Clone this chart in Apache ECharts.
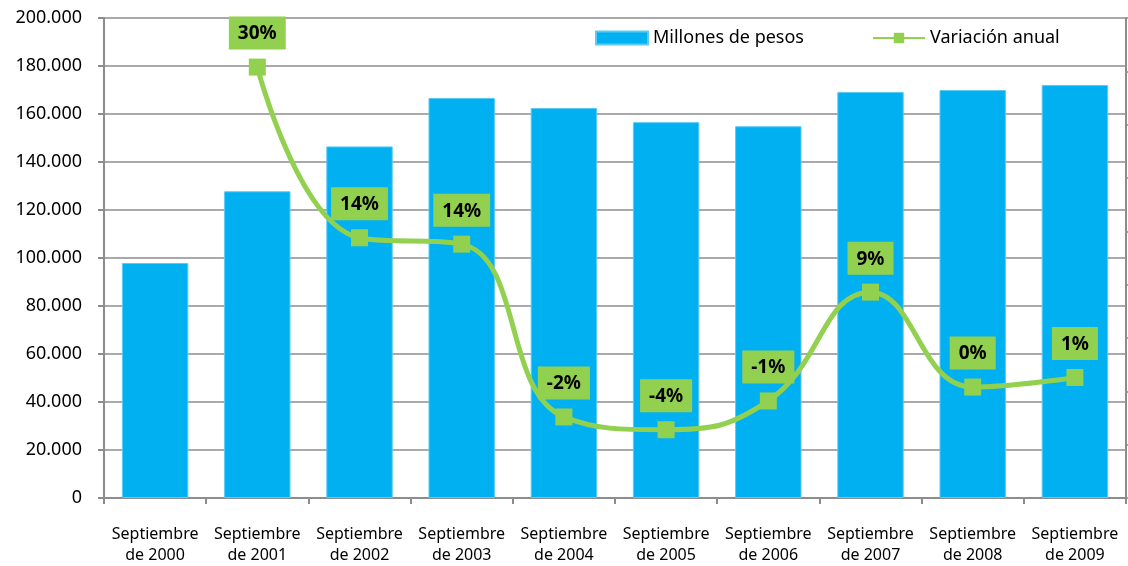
<!DOCTYPE html>
<html>
<head>
<meta charset="utf-8">
<script src="https://cdn.jsdelivr.net/npm/echarts@6/dist/echarts.min.js"></script>
<style>
  html, body { margin: 0; padding: 0; background: #fff; }
  #chart { width: 1128px; height: 566px; }
</style>
</head>
<body>
<div id="chart"></div>
<script>
// datos
const years = ['Septiembre\nde 2000', 'Septiembre\nde 2001', 'Septiembre\nde 2002', 'Septiembre\nde 2003',
  'Septiembre\nde 2004', 'Septiembre\nde 2005', 'Septiembre\nde 2006', 'Septiembre\nde 2007',
  'Septiembre\nde 2008', 'Septiembre\nde 2009'];
const millones = [97900, 127800, 146500, 166700, 162500, 156600, 154900, 169200, 170000, 172100];
const variacion = [null, 30.4, 14.4, 13.8, -2.4, -3.6, -0.9, 9.3, 0.4, 1.3];

const chart = echarts.init(document.getElementById('chart'));

function miles(v) {
  return String(v).replace(/\B(?=(\d{3})+(?!\d))/g, '.');
}

const gris = '#8c8c8c';
const fuente = 'Noto Sans';

const option = {
  animation: false,
  textStyle: { fontFamily: fuente },
  legend: {
    left: 590,
    top: 24,
    itemWidth: 52,
    itemHeight: 13,
    itemGap: 68,
    textStyle: { fontSize: 18, color: '#000', fontFamily: fuente },
    data: [
      { name: 'Millones de pesos', icon: 'rect' },
      { name: 'Variación anual' }
    ]
  },
  grid: {
    left: 104,
    right: 2,
    top: 18,
    bottom: 66
  },
  xAxis: {
    type: 'category',
    data: years,
    axisLine: { lineStyle: { color: gris, width: 2 } },
    axisTick: { show: true, length: 6, lineStyle: { color: gris, width: 2 } },
    axisLabel: {
      color: '#000',
      fontSize: 16,
      lineHeight: 21,
      margin: 26,
      interval: 0
    }
  },
  yAxis: [
    {
      type: 'value',
      min: 0,
      max: 200000,
      interval: 20000,
      axisLine: { show: true, lineStyle: { color: gris, width: 2 } },
      axisTick: { show: true, length: 6, lineStyle: { color: gris, width: 2 } },
      axisLabel: {
        color: '#000',
        fontSize: 18,
        margin: 22,
        formatter: miles
      },
      splitLine: { lineStyle: { color: gris, width: 1.5 } }
    },
    {
      type: 'value',
      position: 'right',
      min: -10,
      max: 35,
      interval: 5,
      axisLine: { show: true, lineStyle: { color: gris, width: 2 } },
      axisTick: { show: true, length: 4, lineStyle: { color: gris, width: 1.5 } },
      axisLabel: { show: false },
      splitLine: { show: false }
    }
  ],
  series: [
    {
      name: 'Millones de pesos',
      type: 'bar',
      data: millones,
      barCategoryGap: '35%',
      itemStyle: { color: '#00b0f0', borderColor: '#5ccaf5', borderWidth: 1 }
    },
    {
      name: 'Variación anual',
      type: 'line',
      yAxisIndex: 1,
      data: variacion,
      smooth: 0.45,
      symbol: 'rect',
      symbolSize: 17,
      z: 5,
      lineStyle: { color: '#92d050', width: 5 },
      itemStyle: { color: '#92d050' },
      label: {
        show: true,
        position: 'top',
        distance: 9,
        formatter: p => Math.round(p.value) + '%',
        backgroundColor: '#92d050',
        padding: [8, 9, 6, 9],
        color: '#000',
        fontWeight: 'bold',
        fontSize: 19,
        fontFamily: fuente
      }
    }
  ]
};

chart.setOption(option);
</script>
</body>
</html>
